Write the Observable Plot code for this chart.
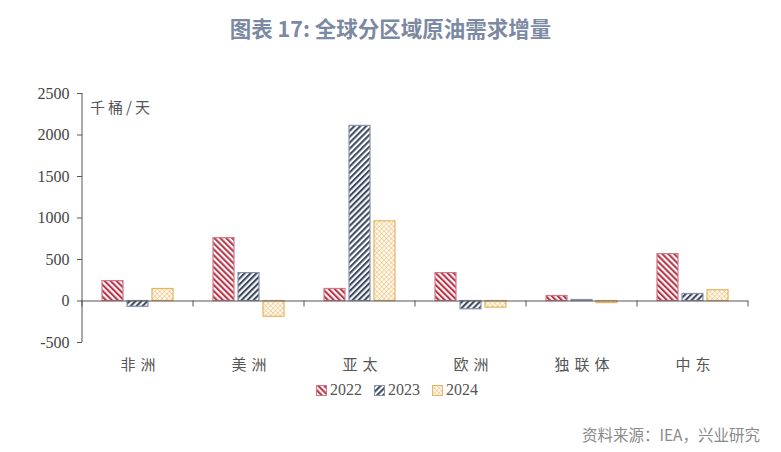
<!DOCTYPE html>
<html><head><meta charset="utf-8">
<script src="https://cdn.jsdelivr.net/npm/d3@7"></script>
<script src="https://cdn.jsdelivr.net/npm/@observablehq/plot@0.6"></script>
<style>
body{margin:0;background:#fff;}
#wrap{position:relative;width:781px;height:452px;font-family:"Noto Sans CJK SC","Noto Sans",sans-serif;overflow:hidden;}
#title{position:absolute;top:13px;left:0;width:781px;text-align:center;font-size:21.5px;font-weight:bold;color:#7b8aa2;line-height:30px;}
#chart{position:absolute;top:60px;left:0;}
#unit{position:absolute;left:90px;top:97px;font-size:15px;color:#555;letter-spacing:3px;line-height:20px;}
#legend{position:absolute;left:316px;top:380px;display:flex;align-items:center;font-family:"Liberation Serif","DejaVu Serif",serif;font-size:16px;color:#555;line-height:20px;}
#legend .it{display:flex;align-items:center;margin-right:12px;}
#legend svg{margin-right:3px;}
#source{position:absolute;right:21px;top:423px;font-size:15.5px;color:#8a8a8a;line-height:22px;}
#chart svg text.ynum{font-family:"Liberation Serif","DejaVu Serif",serif !important;font-size:16px !important;}
</style></head>
<body>
<div id="wrap">
  <div id="title">图表 17: 全球分区域原油需求增量</div>
  <div id="chart"></div>
  <div id="unit">千桶/天</div>
  <div id="legend"></div>
  <div id="source">资料来源：IEA，兴业研究</div>
</div>
<script>
const regions = ["非洲","美洲","亚太","欧洲","独联体","中东"];
const years = ["2022","2023","2024"];
const v2022 = [240, 757, 145, 336, 60, 565];
const v2023 = [-70, 336, 2110, -100, 12, 85];
const v2024 = [145, -190, 960, -80, -25, 130];
const yTicks = [-500, 0, 500, 1000, 1500, 2000, 2500];

const series = [v2022, v2023, v2024];
const strokeColors = {"2022": "#d07884", "2023": "#8792a6", "2024": "#e8b45c"};
const rows = regions.flatMap((r, i) => years.map((yr, j) => ({region: r, year: yr, value: series[j][i]})));

const chart = Plot.plot({
  width: 781, height: 320,
  marginLeft: 81, marginRight: 32, marginTop: 33, marginBottom: 38,
  style: {fontFamily: "'Liberation Serif','DejaVu Serif',serif", fontSize: "16px", color: "#444", background: "transparent"},
  fx: {domain: regions, padding: 0, label: null, axis: "bottom", tickSize: 0, tickPadding: 17},
  x: {domain: years, paddingInner: 0.18, paddingOuter: 0.765, axis: null},
  y: {domain: [-500, 2500], ticks: yTicks, tickSize: 5, tickPadding: 8, tickFormat: d => String(d), label: null},
  color: {type: "identity"},
  marks: [
    Plot.barY(rows, {fx: "region", x: "year", y: "value", fill: d => `url(#pat${d.year})`, stroke: d => strokeColors[d.year], strokeWidth: 1.2}),
    Plot.ruleY([0], {stroke: "#555", strokeWidth: 1})
  ]
});
document.getElementById("chart").appendChild(chart);

const svg = d3.select(chart);
const defs = svg.insert("defs", ":first-child");
function stripe(id, color, angle) {
  const p = defs.append("pattern").attr("id", id).attr("patternUnits", "userSpaceOnUse")
    .attr("width", 4.2).attr("height", 10).attr("patternTransform", `rotate(${angle})`);
  p.append("rect").attr("width", 4.2).attr("height", 10).attr("fill", "#fff");
  p.append("rect").attr("width", 2.1).attr("height", 10).attr("fill", color);
}
stripe("pat2022", "#b8364a", -45);
stripe("pat2023", "#3e4b62", 45);
{
  const p = defs.append("pattern").attr("id", "pat2024").attr("patternUnits", "userSpaceOnUse")
    .attr("width", 3.4).attr("height", 3.4).attr("patternTransform", "rotate(45)");
  p.append("rect").attr("width", 3.4).attr("height", 3.4).attr("fill", "#fffaf0");
  p.append("path").attr("d", "M0,0H3.4M0,0V3.4").attr("stroke", "#e2ab52").attr("stroke-width", 0.8).attr("fill", "none");
}

// axis line and category boundary ticks from the library's scales
const fx = chart.scale("fx"), y = chart.scale("y");
const y0 = y.apply(0);
const edges = regions.map(r => fx.apply(r)).concat([fx.apply(regions[regions.length - 1]) + fx.bandwidth]);
const g = svg.append("g").attr("stroke", "#555").attr("stroke-width", 1);
g.append("line").attr("x1", edges[0]).attr("x2", edges[0]).attr("y1", y.apply(2500)).attr("y2", y.apply(-500));
edges.forEach(x => g.append("line").attr("x1", x).attr("x2", x).attr("y1", y0).attr("y2", y0 + 6));

// axis label styling
svg.selectAll("text").filter(function () { return regions.includes(this.textContent.trim()); })
  .style("font-family", "'Noto Sans CJK SC',sans-serif").style("font-size", "15px")
  .style("letter-spacing", "5px").attr("fill", "#555").attr("dx", "2.5");
svg.selectAll("text").filter(function () { return /^-?\d+$/.test(this.textContent.trim()); })
  .classed("ynum", true).attr("fill", "#444");
svg.selectAll("g[aria-label^='y-axis'] path").attr("stroke", "#555");

// legend
const leg = d3.select("#legend");
years.forEach(yr => {
  const it = leg.append("div").attr("class", "it");
  const s = it.append("svg").attr("width", 11).attr("height", 11);
  s.append("rect").attr("x", 0.5).attr("y", 0.5).attr("width", 10).attr("height", 10)
    .attr("fill", `url(#pat${yr})`).attr("stroke", strokeColors[yr]);
  it.append("span").text(yr);
});
</script>
</body></html>
